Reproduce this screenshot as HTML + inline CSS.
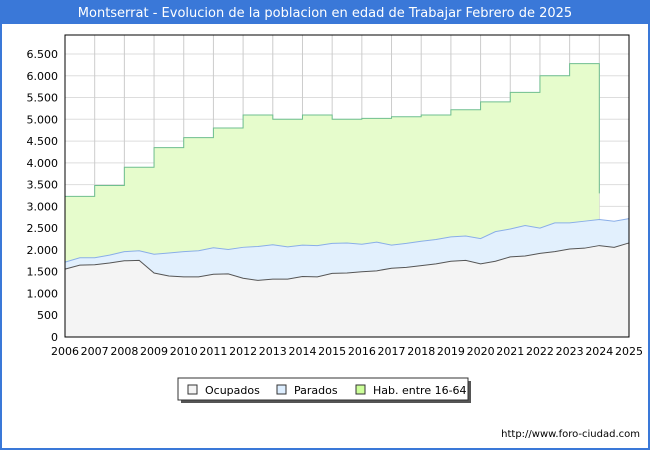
<!DOCTYPE html>
<html><head><meta charset="utf-8"><style>
body{margin:0;width:650px;height:450px;background:#fff;font-family:"Liberation Sans","DejaVu Sans",sans-serif;}
</style></head><body>
<svg width="650" height="450" xmlns="http://www.w3.org/2000/svg" id="chart">
<rect x="0" y="0" width="650" height="450" fill="#3a78d8"/>
<rect x="2" y="24" width="646" height="424" fill="#fff"/>
<text x="325" y="17" text-anchor="middle" fill="#fff" font-size="13" font-family="DejaVu Sans,sans-serif">Montserrat - Evolucion de la poblacion en edad de Trabajar Febrero de 2025</text>
<g id="grid"></g>
<g id="series"></g>
<rect x="65" y="35" width="564" height="302" fill="none" stroke="#000" stroke-width="1"/>
<g id="axes"></g>
<g>
<rect x="181" y="381" width="290" height="22" fill="#555"/>
<rect x="178" y="378" width="290" height="22" fill="#fff" stroke="#333"/>
<g><rect x="188" y="385" width="9" height="9" fill="#f4f4f4" stroke="#333"/><text x="205" y="394" font-size="11" font-family="DejaVu Sans,sans-serif">Ocupados</text></g>
<g><rect x="277" y="385" width="9" height="9" fill="#ddeeff" stroke="#333"/><text x="294" y="394" font-size="11" font-family="DejaVu Sans,sans-serif">Parados</text></g>
<g><rect x="356" y="385" width="9" height="9" fill="#ccff99" stroke="#333"/><text x="373" y="394" font-size="11" font-family="DejaVu Sans,sans-serif">Hab. entre 16-64</text></g>
</g>
<text x="640" y="437" text-anchor="end" font-size="10" font-family="DejaVu Sans,sans-serif">http://www.foro-ciudad.com</text>
</svg>
<script>
const years=[2006,2007,2008,2009,2010,2011,2012,2013,2014,2015,2016,2017,2018,2019,2020,2021,2022,2023,2024,2025];
const yTicks=[0,500,1000,1500,2000,2500,3000,3500,4000,4500,5000,5500,6000,6500];
const yTickLabels=["0","500","1.000","1.500","2.000","2.500","3.000","3.500","4.000","4.500","5.000","5.500","6.000","6.500"];
const habYears=[2006,2007,2008,2009,2010,2011,2012,2013,2014,2015,2016,2017,2018,2019,2020,2021,2022,2023];
const habValues=[3230,3480,3900,4350,4580,4800,5100,5000,5100,5000,5020,5060,5100,5220,5400,5620,6000,6280];
const monthlyTimes=[2006,2006.5,2007,2007.5,2008,2008.5,2009,2009.5,2010,2010.5,2011,2011.5,2012,2012.5,2013,2013.5,2014,2014.5,2015,2015.5,2016,2016.5,2017,2017.5,2018,2018.5,2019,2019.5,2020,2020.5,2021,2021.5,2022,2022.5,2023,2023.5,2024,2024.5,2025];
const paradosTop=[1720,1820,1820,1880,1960,1980,1900,1930,1960,1980,2050,2010,2060,2080,2120,2070,2110,2100,2150,2160,2130,2180,2110,2150,2200,2240,2300,2320,2260,2420,2480,2560,2500,2620,2620,2660,2700,2660,2720];
const ocupados=[1560,1650,1660,1700,1750,1760,1470,1400,1380,1380,1440,1450,1350,1300,1330,1330,1390,1380,1460,1470,1500,1520,1580,1600,1640,1680,1740,1760,1680,1740,1840,1860,1920,1960,2020,2040,2100,2060,2160];

const X0=65,X1=629,Y0=337,YT=54;
const xs=t=>X0+(t-2006)/(2025-2006)*(X1-X0);
const ys=v=>Y0-v/6500*(Y0-YT);
const NS="http://www.w3.org/2000/svg";
function mk(tag,attrs,parent){const e=document.createElementNS(NS,tag);for(const k in attrs)e.setAttribute(k,attrs[k]);parent.appendChild(e);return e;}
const grid=document.getElementById('grid'),ser=document.getElementById('series'),axes=document.getElementById('axes');
yTicks.forEach((v,i)=>{
  const l=mk('line',{x1:X0,x2:X1,y1:ys(v),y2:ys(v),stroke:'#ddd'},grid);
  
  
  const t=mk('text',{x:X0-7,y:ys(v)+4,'text-anchor':'end','font-size':'11','font-family':'DejaVu Sans,sans-serif'},axes);
  t.textContent=yTickLabels[i];
  
  
});
years.forEach(y=>{
  const l=mk('line',{x1:xs(y),x2:xs(y),y1:35,y2:Y0,stroke:'#ccc'},grid);
  
  
  const t=mk('text',{x:xs(y),y:Y0+18,'text-anchor':'middle','font-size':'11','font-family':'DejaVu Sans,sans-serif'},axes);
  t.textContent=String(y);
  
  
});
// hab step area
let hp=[];habYears.forEach((y,i)=>{hp.push([xs(y),ys(habValues[i])]);hp.push([xs(y+1),ys(habValues[i])]);});
const habLast=hp[hp.length-1][0];
let hd='M'+xs(2006)+','+Y0+' '+hp.map(p=>'L'+p[0]+','+p[1]).join(' ')+' L'+habLast+','+ys(3300)+' L'+habLast+','+Y0+'Z';
const ha=mk('path',{d:hd,fill:'#e6fccc'},ser);


const hl=mk('path',{d:'M'+hp.map(p=>p[0]+','+p[1]).join(' L')+' L'+habLast+','+ys(3300),fill:'none',stroke:'#6fbf8f','stroke-width':1},ser);


const pp=monthlyTimes.map((t,i)=>[xs(t),ys(paradosTop[i])]);
const op=monthlyTimes.map((t,i)=>[xs(t),ys(ocupados[i])]);
const pa=mk('path',{d:'M'+pp.map(p=>p.join(',')).join(' L')+' L'+X1+','+Y0+' L'+X0+','+Y0+'Z',fill:'#e2f0fd'},ser);


const oa=mk('path',{d:'M'+op.map(p=>p.join(',')).join(' L')+' L'+X1+','+Y0+' L'+X0+','+Y0+'Z',fill:'#f4f4f4'},ser);


const pl=mk('path',{d:'M'+pp.map(p=>p.join(',')).join(' L'),fill:'none',stroke:'#8aaee8','stroke-width':1},ser);


const ol=mk('path',{d:'M'+op.map(p=>p.join(',')).join(' L'),fill:'none',stroke:'#555','stroke-width':1},ser);


</script>
</body></html>
